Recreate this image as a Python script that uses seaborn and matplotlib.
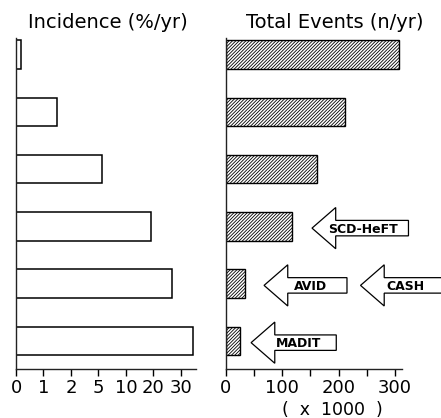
import numpy as np
import matplotlib
matplotlib.use("Agg")
import matplotlib.pyplot as plt
import seaborn as sb
from matplotlib.patches import FancyArrow
from matplotlib.ticker import FixedLocator

# population groups, top to bottom (not labelled in the figure)
groups = ["General population", "High-risk subgroups", "Any prior coronary event",
          "EF < 30% / heart failure", "Cardiac arrest survivors", "Post-MI, low EF, VT"]
incidence = [0.2, 1.5, 5.7, 19.3, 26.7, 34.5]        # %/yr
total_events = [307, 212, 161, 118, 35, 25]          # n/yr (x 1000)

inc_ticks = [0, 1, 2, 5, 10, 20, 30]
evt_major = [0, 100, 200, 300]
evt_minor = [50, 150, 250]

# trial arrows: (name, row, tip, right end, text x)
trials = ["SCD-HeFT", "AVID", "CASH", "MADIT"]
trial_rows = [3, 4, 4, 5]
trial_tip = [153, 68, 239, 45]
trial_end = [324, 215, 420, 196]
trial_text_x = [244, 151, 318, 130]

plt.rcParams["font.family"] = "DejaVu Sans"
plt.rcParams["hatch.linewidth"] = 0.6

# piecewise scale so 0,1,2,5,10,20,30 sit evenly apart
scale_vals = [0, 1, 2, 5, 10, 20, 30, 130]
scale_pos = [0, 1, 2, 3, 4, 5, 6, 16]

def fwd(x):
    return np.interp(x, scale_vals, scale_pos)

def inv(p):
    return np.interp(p, scale_pos, scale_vals)

fig = plt.figure(figsize=(4.41, 4.18), dpi=100)
W, H = 441.0, 418.0
ax1 = fig.add_axes([16 / W, 1 - 369 / H, 180 / W, 331 / H])
ax2 = fig.add_axes([225.7 / W, 1 - 369 / H, 176 / W, 331 / H])

sb.barplot(x=incidence, y=groups, orient="h", ax=ax1, color="white", saturation=1,
           edgecolor="black", linewidth=1.1, width=0.5)
sb.barplot(x=total_events, y=groups, orient="h", ax=ax2, color="white", saturation=1,
           edgecolor="black", linewidth=1.0, width=0.5, hatch="//////////")

ax1.set_xscale("function", functions=(fwd, inv))
ax1.set_xlim(0, 35.5)
ax1.set_xticks(inc_ticks)
ax1.set_xticklabels([str(t) for t in inc_ticks])

ax2.set_xlim(0, 312)
ax2.xaxis.set_major_locator(FixedLocator(evt_major))
ax2.xaxis.set_minor_locator(FixedLocator(evt_minor))
ax2.set_xticklabels([str(t) for t in evt_major])

for ax in (ax1, ax2):
    ax.set_ylim(5.49, -0.29)
    ax.set_yticks([])
    ax.set_ylabel("")
    ax.set_xlabel("")
    ax.set_facecolor("white")
    for s in ("top", "right"):
        ax.spines[s].set_visible(False)
    for s in ("left", "bottom"):
        ax.spines[s].set_linewidth(1.0)
        ax.spines[s].set_color("#222222")
    ax.tick_params(axis="x", which="both", direction="out", length=5, width=1,
                   pad=2, labelsize=13, colors="black")

# block arrows for the trials
for name, row, tip, end, tx in zip(trials, trial_rows, trial_tip, trial_end, trial_text_x):
    arr = FancyArrow(end, row + 0.03, -(end - tip), 0, width=0.27, head_width=0.72,
                     head_length=42, length_includes_head=True, facecolor="white",
                     edgecolor="black", linewidth=0.9, clip_on=False)
    ax2.add_patch(arr)
    ax2.text(tx, row + 0.05, name, ha="center", va="center", fontsize=9,
             fontweight="bold", color="black", clip_on=False)

fig.text(108 / W, 1 - 23 / H, "Incidence (%/yr)", ha="center", va="center", fontsize=14)
fig.text(335 / W, 1 - 23 / H, "Total Events (n/yr)", ha="center", va="center", fontsize=14)
fig.text(332 / W, 1 - 410 / H, "(  x  1000  )", ha="center", va="center", fontsize=12.5)

fig.savefig("out.png", dpi=100, facecolor="white")
